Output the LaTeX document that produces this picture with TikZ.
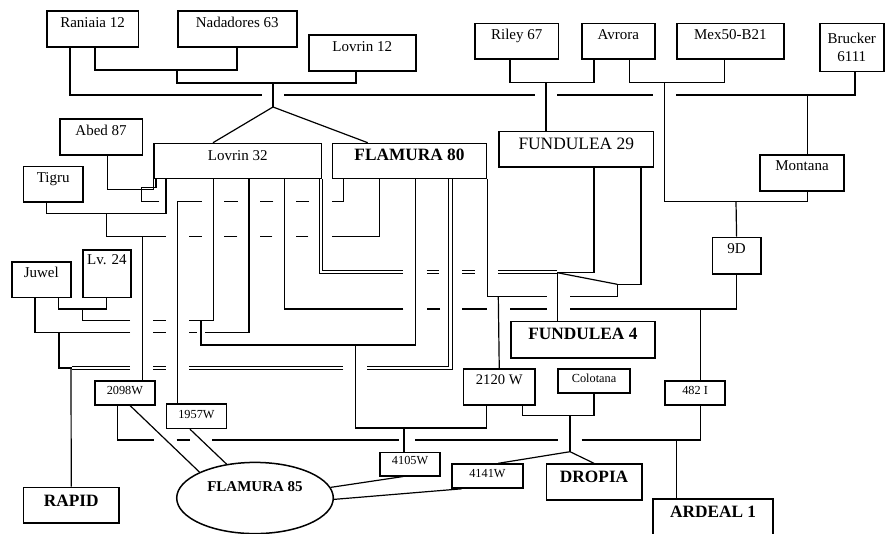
\documentclass[tikz,border=0pt]{standalone}
\usepackage{fontspec}
\setmainfont{Liberation Serif}
\usetikzlibrary{shapes.geometric}
\begin{document}
\begin{tikzpicture}[x=1pt,y=-1pt,line width=1.2pt,
  box/.style={draw,line width=1.5pt,rectangle,inner sep=0pt,anchor=north west},
  rg/.style={font=\fontsize{15}{17}\selectfont},
  bd/.style={font=\bfseries\fontsize{17.3}{19}\selectfont},
  sm/.style={font=\fontsize{12.3}{14}\selectfont},
  dbl/.style={double,double distance=2.2pt,line width=1.1pt}]
\useasboundingbox (0,0) rectangle (885,533);
\fill[white] (0,0) rectangle (885,533);
% boxes
\node[box,rg,minimum width=91.7pt,text height=16.7pt,text depth=19.3pt] (rani) at (46,10) {Raniaia 12};
\node[box,rg,minimum width=119pt,text height=16.7pt,text depth=19.3pt] (nada) at (177,10) {Nadadores 63};
\node[box,rg,minimum width=107pt,text height=16.3pt,text depth=19.4pt] (lovA) at (308,34.3) {Lovrin 12};
\node[box,rg,minimum width=83.4pt,text height=16.3pt,text depth=19.3pt] (riley) at (474.3,22.7) {Riley 67};
\node[box,rg,minimum width=73pt,text height=16.3pt,text depth=19.3pt] (avrora) at (581,22.7) {Avrora};
\node[box,rg,minimum width=107.3pt,text height=16.3pt,text depth=19.3pt] (mex) at (676,22.7) {Mex50-B21};
\node[box,font=\fontsize{15}{17.7}\selectfont,align=center,minimum width=64pt,minimum height=48pt] (bruck) at (819,22.7) {Brucker\\6111};
\node[box,rg,minimum width=82.7pt,text height=16pt,text depth=20pt] (abed) at (59,118.3) {Abed 87};
\node[box,rg,minimum width=59.6pt,text height=16pt,text depth=19.3pt] (tigru) at (22.7,165.7) {Tigru};
\node[box,rg,minimum width=167.4pt,text height=16.6pt,text depth=18.4pt] (lovB) at (153.3,142.7) {Lovrin 32};
\node[box,bd,minimum width=154pt,text height=17.3pt,text depth=17.7pt] (f80) at (331.7,142.7) {FLAMURA 80};
\node[box,font=\fontsize{17.4}{19}\selectfont,minimum width=154.4pt,text height=17.6pt,text depth=17.7pt] (f29) at (498.3,130.7) {FUNDULEA 29};
\node[box,rg,minimum width=84pt,text height=15.3pt,text depth=20.7pt] (mont) at (759.3,154) {Montana};
\node[box,rg,minimum width=48.3pt,text height=16pt,text depth=20.6pt] (nine) at (711.7,236.7) {9D};
\node[box,rg,minimum width=59pt,text height=15.7pt,text depth=20pt] (juwel) at (11,261) {Juwel};
\node[box,rg,minimum width=47.7pt,text height=15pt,text depth=32.7pt] (lv) at (82.3,249) {Lv. 24};
\node[box,bd,minimum width=144.3pt,text height=18.3pt,text depth=18.3pt] (f4) at (510,320.7) {FUNDULEA 4};
\node[box,font=\fontsize{14.6}{16}\selectfont,minimum width=71.6pt,text height=15pt,text depth=20.7pt] (w2120) at (462.7,368.3) {2120 W};
\node[box,sm,minimum width=72pt,text height=13.3pt,text depth=10.7pt] (colo) at (557.3,368.3) {Colotana};
\node[box,sm,minimum width=60pt,text height=13.3pt,text depth=10.7pt] (i482) at (664.3,380) {482 I};
\node[box,sm,minimum width=59.7pt,text height=13.3pt,text depth=10.7pt] (w2098) at (94.3,380) {2098W};
\node[box,sm,minimum width=60pt,text height=14pt,text depth=10.4pt] (w1957) at (165.7,403.3) {1957W};
\node[box,sm,minimum width=60pt,text height=12.3pt,text depth=11pt] (w4105) at (379.3,451.7) {4105W};
\node[box,sm,minimum width=71.3pt,text height=13.3pt,text depth=10.7pt] (w4141) at (451,463.3) {4141W};
\node[box,bd,minimum width=95.3pt,text height=18.3pt,text depth=17.7pt] (dropia) at (545.7,463.3) {DROPIA};
\node[box,bd,minimum width=120pt,text height=18.3pt,text depth=22pt] (ardeal) at (652.3,498.3) {ARDEAL 1};
\node[box,bd,minimum width=95.6pt,text height=19pt,text depth=16.6pt] (rapid) at (22.7,486.7) {RAPID};
\node[draw,ellipse,line width=1.5pt,minimum width=156.6pt,minimum height=71.2pt,inner sep=0pt,text height=11pt,text depth=25pt,font=\bfseries\fontsize{15}{17}\selectfont] (f85) at (255,498) {FLAMURA 85};
% top connectors
\draw ([xshift=24pt]rani.south west) |- (262,95);
\draw (284,95) -- (535,95);
\draw (557.3,95) -- (653.3,95);
\draw (676,95) -| ([xshift=36pt]bruck.south west);
\draw (807.7,95) -- ([xshift=48.4pt]mont.north west);
\draw ([xshift=49pt]rani.south west) |- (237,70) -- ([xshift=60pt]nada.south west);
\draw (177,70) |- (356,83) -- ([xshift=48pt]lovA.south west);
\draw (273,83) -- (273,107) coordinate (fork);
\draw (fork) -- ([xshift=59.7pt]lovB.north west);
\draw (fork) -- ([xshift=36pt]f80.north west);
\draw ([xshift=35.7pt]riley.south west) |- (594,82.7) -- ([xshift=13pt]avrora.south west);
\draw (546,82.7) -- ([xshift=47.7pt]f29.north west);
\draw ([xshift=48.3pt]avrora.south west) |- (724.3,82.7) -- ([xshift=48.3pt]mex.south west);
\draw (664.3,82.7) |- (807.7,201.7) -- ([xshift=48.4pt]mont.south west);
\draw (736,201.7) -- (nine.north);
% 9D line
\draw (nine.south) |- (570,309);
\draw (546.7,309) -- (510,309);
\draw (486.7,309) -- (462.3,309);
\draw (440,309) -- (426.7,309);
\draw (403.3,309) -| ([xshift=131pt]lovB.south west);
\draw (700.7,309) -- ([xshift=36.4pt]i482.north west);
% FUNDULEA 29 legs
\draw ([xshift=95.7pt]f29.south west) |- (557.3,272.7) coordinate (f4top);
\draw ([xshift=142.7pt]f29.south west) |- (617.3,284.3) -- (617.3,296.7) -- (570,296.7);
\draw (f4top) -- (617.3,284.3);
\draw (f4top) -- ([xshift=47.3pt]f4.north west);
\draw (546.7,296.7) -| (f80.south east);
\draw (498.3,296.7) -- (w2120.north);
% double lines
\draw[dbl] ([xshift=-1.5pt]lovB.south east) |- (403.3,272.2);
\draw[dbl] (426.7,272.2) -- (439,272.2);
\draw[dbl] (462.3,272.2) -- (475,272.2);
\draw[dbl] (498.3,272.2) -- (557.3,272.2);
\draw[dbl] ([xshift=118.8pt]f80.south west) |- (367.3,368);
\draw[dbl] (343.3,368) -- (189.3,368);
\draw[dbl] (165.7,368) -- (153.3,368);
\draw[dbl] (130,368) -- (71.7,368);
% FLAMURA 80 legs
\draw ([xshift=11.6pt]f80.south west) |- (331.7,201.7);
\draw (309,201.7) -- (295.7,201.7);
\draw (273.3,201.7) -- (260,201.7);
\draw (237.7,201.7) -- (224.3,201.7);
\draw (201.7,201.7) -| ([xshift=11.6pt]w1957.north west);
\draw (159.3,201.7) -- (141.7,201.7) -- (141.7,187.3) -- (156,187.3) -- ([xshift=2.7pt]lovB.south west);
\draw ([xshift=47.6pt]f80.south west) |- (331.7,236.7);
\draw (308.3,236.7) -- (296,236.7);
\draw (272.3,236.7) -- (260,236.7);
\draw (237.3,236.7) -- (224.3,236.7);
\draw (201.7,236.7) -- (189,236.7);
\draw (165.7,236.7) -- (106.7,236.7) -- (106.7,213.3);
\draw (142.3,236.7) -- ([xshift=48pt]w2098.north west);
\draw ([xshift=83.6pt]f80.south west) |- (201,345) -- (201,320.7);
\draw (355.7,345) |- (486.7,428) -- ([xshift=24pt]w2120.south west);
\draw (404,428) -- ([xshift=24.7pt]w4105.north west);
% Lovrin 32 legs
\draw ([xshift=48.7pt]abed.south west) |- (153.3,189.3) -- (lovB.south west);
\draw ([xshift=24pt]tigru.south west) |- (166,213.3) -- ([xshift=12.7pt]lovB.south west);
\draw ([xshift=60pt]lovB.south west) |- (189,320.7);
\draw (165.7,320.7) -- (153.3,320.7);
\draw (130,320.7) -- (82.3,320.7) -- (82.3,309);
\draw ([xshift=47.3pt]juwel.south west) |- (106.7,309) -- ([xshift=24.4pt]lv.south west);
\draw ([xshift=95.7pt]lovB.south west) |- (205.3,332.3);
\draw (196.7,332.3) -- (189.3,332.3);
\draw (165.7,332.3) -- (153.3,332.3);
\draw (130,332.3) -| ([xshift=24pt]juwel.south west);
\draw (59,332.3) |- (71.7,368);
\draw (71,368) -- (rapid.north);
% bottom
\draw ([xshift=23.4pt]w2098.south west) |- (154.3,440);
\draw (176.7,440) -- (190,440);
\draw (212.3,440) -- (399.3,440);
\draw (415,440) -- (558.3,440);
\draw (581.7,440) -| ([xshift=36.4pt]i482.south west);
\draw (676.7,440) -- ([xshift=24.4pt]ardeal.north west);
\draw ([xshift=35.7pt]w2098.south west) -- (f85.155);
\draw ([xshift=24.3pt]w1957.south west) -- (f85.130);
\draw ([xshift=24pt]w4105.south west) -- (f85.8);
\draw ([xshift=10.7pt]w4141.south west) -- (f85.-1);
\draw ([xshift=59.6pt]w2120.south west) |- (594,415.7) -- ([xshift=36.7pt]colo.south west);
\draw (570,415.7) -- (570,451.7) coordinate (dfork);
\draw (dfork) -- ([xshift=47.3pt]w4141.north west);
\draw (dfork) -- ([xshift=48.3pt]dropia.north west);
\end{tikzpicture}
\end{document}
